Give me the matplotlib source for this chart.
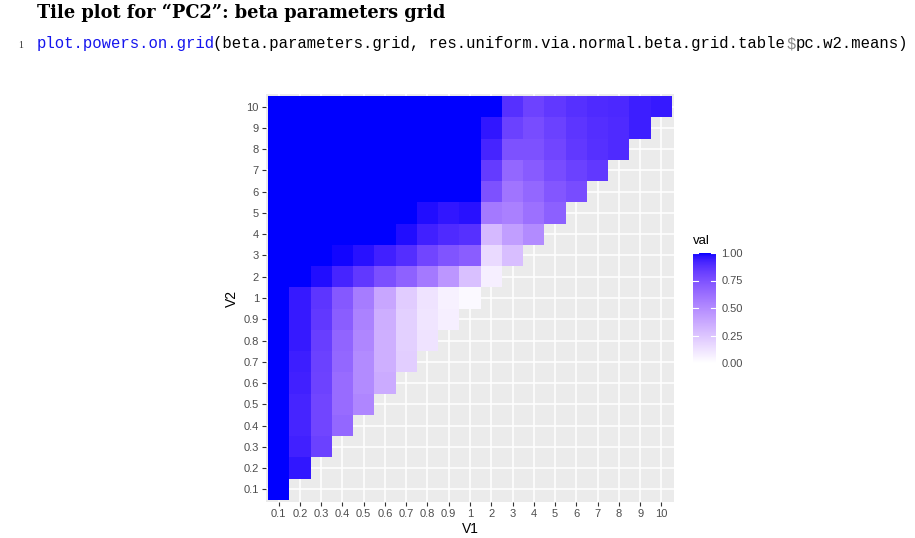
import numpy as np
import matplotlib
matplotlib.use('Agg')
import matplotlib.pyplot as plt
from matplotlib.colors import ListedColormap
from matplotlib.font_manager import FontProperties

# category labels shared by both axes
labels = ['0.1', '0.2', '0.3', '0.4', '0.5', '0.6', '0.7', '0.8', '0.9',
          '1', '2', '3', '4', '5', '6', '7', '8', '9', '10']

# power per V1 column, V2 running from V2 == V1 up to 10
v1_0_1 = [1.00, 1.00, 1.00, 1.00, 1.00, 1.00, 1.00, 1.00, 1.00, 1.00,
          1.00, 1.00, 1.00, 1.00, 1.00, 1.00, 1.00, 1.00, 1.00]
v1_0_2 = [0.96, 0.93, 0.92, 0.92, 0.93, 0.94, 0.95, 0.95, 0.95, 1.00,
          1.00, 1.00, 1.00, 1.00, 1.00, 1.00, 1.00, 1.00]
v1_0_3 = [0.82, 0.80, 0.80, 0.81, 0.82, 0.83, 0.85, 0.86, 0.98, 1.00,
          1.00, 1.00, 1.00, 1.00, 1.00, 1.00, 1.00]
v1_0_4 = [0.66, 0.64, 0.64, 0.66, 0.67, 0.70, 0.72, 0.92, 0.99, 1.00,
          1.00, 1.00, 1.00, 1.00, 1.00, 1.00]
v1_0_5 = [0.52, 0.50, 0.50, 0.52, 0.54, 0.57, 0.85, 0.97, 1.00, 1.00,
          1.00, 1.00, 1.00, 1.00, 1.00]
v1_0_6 = [0.36, 0.34, 0.34, 0.35, 0.38, 0.76, 0.93, 1.00, 1.00, 1.00,
          1.00, 1.00, 1.00, 1.00]
v1_0_7 = [0.21, 0.20, 0.20, 0.22, 0.68, 0.89, 0.98, 1.00, 1.00, 1.00,
          1.00, 1.00, 1.00]
v1_0_8 = [0.12, 0.11, 0.12, 0.58, 0.80, 0.93, 0.98, 1.00, 1.00, 1.00,
          1.00, 1.00]
v1_0_9 = [0.07, 0.06, 0.45, 0.74, 0.90, 0.96, 1.00, 1.00, 1.00, 1.00, 1.00]
v1_1 = [0.03, 0.27, 0.70, 0.88, 0.97, 1.00, 1.00, 1.00, 1.00, 1.00]
v1_2 = [0.07, 0.16, 0.30, 0.58, 0.75, 0.84, 0.92, 0.96, 1.00]
v1_3 = [0.28, 0.42, 0.55, 0.60, 0.66, 0.75, 0.82, 0.88]
v1_4 = [0.50, 0.62, 0.66, 0.71, 0.75, 0.77, 0.81]
v1_5 = [0.69, 0.73, 0.77, 0.80, 0.82, 0.85]
v1_6 = [0.77, 0.82, 0.85, 0.86, 0.88]
v1_7 = [0.85, 0.88, 0.89, 0.90]
v1_8 = [0.90, 0.90, 0.91]
v1_9 = [0.94, 0.94]
v1_10 = [0.95]

columns = [v1_0_1, v1_0_2, v1_0_3, v1_0_4, v1_0_5, v1_0_6, v1_0_7, v1_0_8,
           v1_0_9, v1_1, v1_2, v1_3, v1_4, v1_5, v1_6, v1_7, v1_8, v1_9, v1_10]

n = len(labels)
grid = np.full((n, n), np.nan)  # rows = V2, cols = V1
for i, col in enumerate(columns):
    grid[i:, i] = col


# ggplot-style white -> blue gradient, interpolated in Lab space
def lab_to_srgb(L, a, b):
    fy = (L + 16) / 116
    fx = fy + a / 500
    fz = fy - b / 200

    def finv(t):
        return np.where(t > 6 / 29, t ** 3, 3 * (6 / 29) ** 2 * (t - 4 / 29))

    X = 0.95047 * finv(fx)
    Y = finv(fy)
    Z = 1.08883 * finv(fz)
    r = 3.2406 * X - 1.5372 * Y - 0.4986 * Z
    g = -0.9689 * X + 1.8758 * Y + 0.0415 * Z
    bb = 0.0557 * X - 0.2040 * Y + 1.0570 * Z
    lin = np.clip(np.stack([r, g, bb], axis=-1), 0, 1)
    return np.where(lin <= 0.0031308, 12.92 * lin,
                    1.055 * lin ** (1 / 2.4) - 0.055)


t = np.linspace(0, 1, 256)[:, None]
lab = np.array([100.0, 0.0, 0.0]) * (1 - t) + np.array([32.30, 79.19, -107.86]) * t
cmap = ListedColormap(lab_to_srgb(lab[:, 0], lab[:, 1], lab[:, 2]))

fig = plt.figure(figsize=(9.15, 5.38), dpi=100)

# document header (section title + one line of code)
fig.text(37 / 915, 1 - 18 / 538, 'Tile plot for \u201cPC2\u201d: beta parameters grid',
         family='DejaVu Serif', fontweight='bold', fontsize=12.8, va='baseline')
code_y = 1 - 48 / 538
fig.text(18 / 915, code_y, '1', family='Liberation Serif', fontsize=7,
         color='#333333', va='baseline')

code_size = 11.28
mono = FontProperties(family='Liberation Mono', size=code_size)
renderer = fig.canvas.get_renderer()
w_long = renderer.get_text_width_height_descent('x' * 80 + ')', mono, ismath=False)[0]
w_one = renderer.get_text_width_height_descent(')', mono, ismath=False)[0]
adv = (w_long - w_one) / 80  # one monospace cell, in pixels

pieces = [('plot.powers.on.grid', '#1515ee', 0),
          ('(beta.parameters.grid, res.uniform.via.normal.beta.grid.table', 'black', -2),
          ('$', '#8a8a8a', -1),
          ('pc.w2.means)', 'black', -1)]
ncol = 0
for txt, c, shift in pieces:
    fig.text((37 + ncol * adv + shift) / 915, code_y, txt, fontproperties=mono,
             color=c, va='baseline')
    ncol += len(txt)

ax = fig.add_axes([265.9 / 915, 1 - 502.1 / 538, 408.2 / 915, 408.2 / 538])
ax.set_facecolor('#EBEBEB')
edges = np.arange(n + 1) + 0.5
mesh = ax.pcolormesh(edges, edges, grid, cmap=cmap, vmin=0, vmax=1)
ax.set_xlim(0.4, n + 0.6)
ax.set_ylim(0.4, n + 0.6)
ax.set_axisbelow(True)
ax.grid(True, color='white', linewidth=1.1)
pos_ticks = np.arange(1, n + 1)
ax.set_xticks(pos_ticks)
ax.set_xticklabels(labels)
ax.set_yticks(pos_ticks)
ax.set_yticklabels(labels)
for s in ax.spines.values():
    s.set_visible(False)
ax.tick_params(length=3, width=0.8, color='#333333', labelcolor='#4D4D4D',
               labelsize=8, pad=2)
for lab_ in ax.get_xticklabels() + ax.get_yticklabels():
    lab_.set_family('Liberation Sans')
ax.set_xlabel('V1', fontsize=10, family='Liberation Sans', labelpad=2)
ax.set_ylabel('V2', fontsize=10, family='Liberation Sans', labelpad=3)

# colour bar legend
cax = fig.add_axes([693 / 915, 1 - 363 / 538, 23 / 915, 110 / 538])
cb = fig.colorbar(mesh, cax=cax, ticks=[0, 0.25, 0.5, 0.75, 1.0])
cb.outline.set_visible(False)
cb.ax.set_yticklabels(['0.00', '0.25', '0.50', '0.75', '1.00'])
cb.ax.tick_params(length=0, labelsize=8, labelcolor='#4D4D4D', pad=4)
for lab_ in cb.ax.get_yticklabels():
    lab_.set_family('Liberation Sans')
for v in [0, 0.25, 0.5, 0.75, 1.0]:
    cax.plot([0, 0.2], [v, v], color='white', lw=0.8)
    cax.plot([0.8, 1], [v, v], color='white', lw=0.8)
cax.set_xlim(0, 1)
fig.text(693 / 915, 1 - 241 / 538, 'val', family='Liberation Sans', fontsize=9.5,
         va='center')

fig.savefig('out.png', dpi=100)
